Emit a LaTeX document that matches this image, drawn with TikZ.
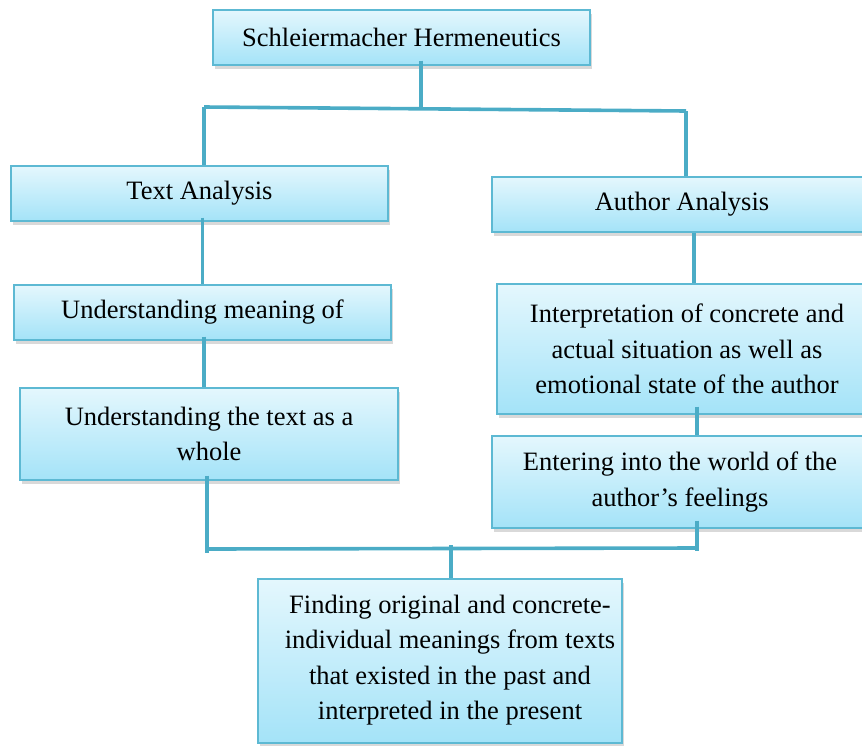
\documentclass[tikz,border=0pt]{standalone}
\usepackage{fontspec}
\setmainfont{Liberation Serif}
\usetikzlibrary{shadows,calc}
\definecolor{lineblue}{HTML}{4BACC6}
\definecolor{boxborder}{HTML}{5DB9D3}
\definecolor{boxtop}{HTML}{E4F7FD}
\definecolor{boxbot}{HTML}{A4E3F8}
\begin{document}
\begin{tikzpicture}[x=1pt,y=-1pt,
  box/.style={draw=boxborder, line width=1.3pt, top color=boxtop, bottom color=boxbot,
    align=center, inner sep=0pt, font=\fontsize{26.5}{35.5}\selectfont,
    drop shadow={shadow xshift=1.5pt, shadow yshift=-4pt, opacity=0.25, fill=black!60}},
  txt/.style={align=center, inner sep=0pt, font=\fontsize{26.5}{35.5}\selectfont},
  conn/.style={draw=lineblue, line width=3.6pt}]
\path[use as bounding box] (0,0) rectangle (862,745);
\clip (0,0) rectangle (862,745);
% boxes
\node[box, minimum width=377, minimum height=55] (top) at (401.5,37.5) {Schleiermacher Hermeneutics};
\node[box, minimum width=377, minimum height=55] (ta) at (199.5,193.5) {Text Analysis};
\node[box, minimum width=377, minimum height=55] (um) at (202.5,312.5) {Understanding meaning of};
\node[box, minimum width=378, minimum height=92] (tw) at (209,434) {Understanding the text as a\\whole};
\node[box, minimum width=380, minimum height=55] (aa) at (682,204.5) {Author Analysis};
\node[box, minimum width=380, minimum height=130] (ip) at (687,349) {Interpretation of concrete and\\actual situation as well as\\emotional state of the author};
\node[box, minimum width=376, minimum height=92] (en) at (680,482) {Entering into the world of the\\author’s feelings};
\node[box, minimum width=364, minimum height=164] (fd) at (440,661) {};
\node[txt] (fdt) at (450,660) {Finding original and concrete-\\individual meanings from texts\\that existed in the past and\\interpreted in the present};
% junctions
\coordinate (jt) at (421,108);
\coordinate (jl) at (204,107);
\coordinate (jr) at (686,111);
\coordinate (bl) at (207,549);
\coordinate (br) at (697,548);
\coordinate (bm) at (451,548);
% connectors
\draw[conn] ([yshift=5pt]jt |- top.south) -- (jt);
\draw[conn] (jl) -- (jr);
\draw[conn] (jl) -- (jl |- ta.north);
\draw[conn] (jr) -- (jr |- aa.north);
\draw[conn] ([yshift=4pt]um.north |- ta.south) -- (um.north);
\draw[conn] ([xshift=1.5pt,yshift=4pt]um.south) -- ([xshift=1.5pt]um.south |- tw.north);
\draw[conn] ([xshift=12pt]aa.south) -- ([xshift=12pt]aa.south |- ip.north);
\draw[conn] ([xshift=10pt,yshift=8pt]ip.south) -- ([xshift=10pt]ip.south |- en.north);
\draw[conn] ([yshift=5pt]bl |- tw.south) -- ([yshift=-4pt]bl);
\draw[conn] (bl) -- (br);
\draw[conn] ([yshift=8pt]br |- en.south) -- ([yshift=-3pt]br);
\draw[conn] ([yshift=3pt]bm) -- (bm |- fd.north);
\end{tikzpicture}
\end{document}
